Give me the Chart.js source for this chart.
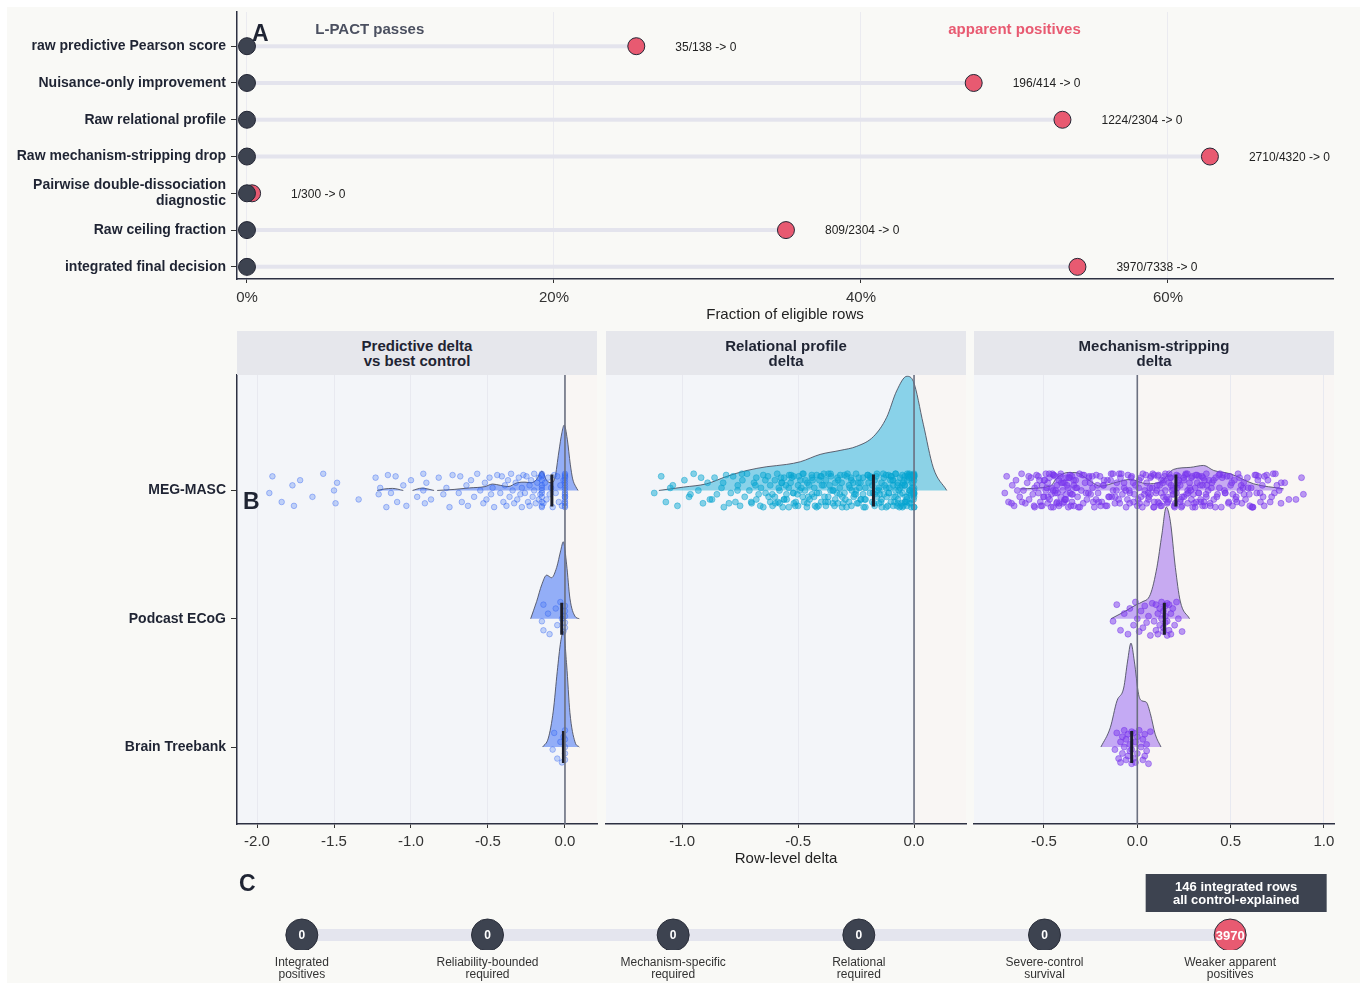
<!DOCTYPE html>
<html>
<head>
<meta charset="utf-8">
<script src="https://cdn.jsdelivr.net/npm/chart.js@4.4.1/dist/chart.umd.min.js"></script>
<style>
  body { margin: 0; background: #fff; width: 1366px; height: 983px; overflow: hidden; font-family: "Liberation Sans", Arial, sans-serif; }
  #panel { position: absolute; left: 7px; top: 7px; width: 1353px; height: 976px; background: #f9f9f6; }
  canvas { position: absolute; }
  .strip { position: absolute; top: 331px; height: 44px; width: 360px; background: #e6e7ec; color: #1f2433;
           font-weight: bold; font-size: 15px; line-height: 15px; display: flex; align-items: center; justify-content: center; text-align: center; }
  .tag { position: absolute; font-weight: bold; font-size: 23px; line-height: 23px; color: #1f2433; }
</style>
</head>
<body>
<div id="panel"></div>
<canvas id="chartA" width="1366" height="323" style="left:0;top:1px"></canvas>
<canvas id="facet1" width="601" height="497" style="left:0;top:371px"></canvas>
<canvas id="facet2" width="370" height="497" style="left:600px;top:371px"></canvas>
<canvas id="facet3" width="370" height="497" style="left:968px;top:371px"></canvas>
<canvas id="chartC" width="1366" height="123" style="left:0;top:860px"></canvas>
<div class="strip" style="left:237px">Predictive delta<br>vs best control</div>
<div class="strip" style="left:606px">Relational profile<br>delta</div>
<div class="strip" style="left:974px">Mechanism-stripping<br>delta</div>
<div class="tag" style="left:252px;top:22px">A</div>
<div class="tag" style="left:243px;top:490px">B</div>
<div class="tag" style="left:239px;top:872px">C</div>
<script>
// ---- panel A data ----
const lollipopCats = [
  "raw predictive Pearson score",
  "Nuisance-only improvement",
  "Raw relational profile",
  "Raw mechanism-stripping drop",
  ["Pairwise double-dissociation", "diagnostic"],
  "Raw ceiling fraction",
  "integrated final decision",
];
const apparent = [35, 196, 1224, 2710, 1, 809, 3970];
const eligible = [138, 414, 2304, 4320, 300, 2304, 7338];
const lpactPasses = [0, 0, 0, 0, 0, 0, 0];
const pctTicks = [0, 0.2, 0.4, 0.6];

// ---- panel B data ----
const rowNames = ["MEG-MASC", "Podcast ECoG", "Brain Treebank"];
const predTicks = [-2, -1.5, -1, -0.5, 0];
const relTicks = [-1, -0.5, 0];
const mechTicks = [-0.5, 0, 0.5, 1];

const predMegPoints = [-1.92,-1.9,-1.84,-1.77,-1.76,-1.72,-1.64,-1.57,-1.5,-1.49,-1.48,-1.34,-1.23,-1.21,-1.2,-1.16,-1.15,-1.13,-1.1,-1.09,-1.05,-1.03,-1.0,-0.96,-0.92,-0.92,-0.91,-0.9,-0.87,-0.82,-0.79,-0.77,-0.75,-0.73,-0.69,-0.68,-0.67,-0.64,-0.63,-0.61,-0.59,-0.57,-0.55,-0.53,-0.52,-0.51,-0.49,-0.48,-0.47,-0.46,-0.44,-0.42,-0.41,-0.4,-0.39,-0.38,-0.37,-0.36,-0.35,-0.34,-0.33,-0.32,-0.31,-0.3,-0.29,-0.28,-0.28,-0.27,-0.26,-0.25,-0.24,-0.23,-0.23,-0.22,-0.21,-0.2,-0.2,-0.19,-0.18,-0.17,-0.17,-0.16,-0.15,-0.15,-0.15,-0.15,-0.15,-0.15,-0.15,-0.15,-0.15,-0.15,-0.15,-0.15,-0.14,-0.13,-0.12,-0.11,-0.1,-0.09,-0.08,-0.07,-0.06,-0.05,-0.04,-0.03,-0.02,-0.01,0,0,0,0,0,0,0,0,0,0,0,0,0,0,0,0,0,0];
const predPodPoints = [-0.15,-0.14,-0.14,-0.11,-0.1,-0.06,-0.05,-0.03,-0.02,-0.01,0,0,0,0,0];
const predTreePoints = [-0.08,-0.07,-0.05,-0.03,-0.02,-0.01,0,0,0,0,0];
const relMegPoints = [-1.12,-1.09,-1.07,-1.04,-1.02,-0.99,-0.97,-0.95,-0.93,-0.91,-0.89,-0.88,-0.86,-0.85,-0.83,-0.82,-0.81,-0.79,-0.78,-0.77,-0.76,-0.75,-0.74,-0.73,-0.72,-0.71,-0.70,-0.69,-0.68,-0.68,-0.67,-0.66,-0.65,-0.65,-0.64,-0.63,-0.62,-0.62,-0.61,-0.60,-0.60,-0.59,-0.58,-0.58,-0.57,-0.56,-0.56,-0.55,-0.54,-0.54,-0.53,-0.52,-0.52,-0.51,-0.50,-0.50,-0.49,-0.48,-0.48,-0.47,-0.46,-0.46,-0.45,-0.44,-0.44,-0.43,-0.42,-0.42,-0.41,-0.40,-0.40,-0.39,-0.38,-0.38,-0.37,-0.36,-0.36,-0.35,-0.34,-0.34,-0.33,-0.32,-0.32,-0.31,-0.30,-0.30,-0.29,-0.28,-0.28,-0.27,-0.27,-0.26,-0.25,-0.25,-0.24,-0.24,-0.23,-0.22,-0.22,-0.21,-0.21,-0.20,-0.19,-0.19,-0.18,-0.18,-0.17,-0.17,-0.16,-0.16,-0.15,-0.15,-0.14,-0.14,-0.13,-0.13,-0.12,-0.12,-0.11,-0.11,-0.10,-0.10,-0.09,-0.09,-0.09,-0.08,-0.08,-0.08,-0.07,-0.07,-0.07,-0.06,-0.06,-0.06,-0.05,-0.05,-0.05,-0.04,-0.04,-0.04,-0.03,-0.03,-0.03,-0.02,-0.02,-0.02,-0.01,-0.01,-0.01,0,0,0,0,0,0,-0.587,-0.553,-0.512,-0.468,-0.431,-0.389,-0.347,-0.306,-0.262,-0.229,-0.183,-0.147,-0.106,-0.063,-0.024,-0.006,-0.017,-0.038,-0.052,-0.074,-0.093,-0.118,-0.133,-0.158,-0.172,-0.196,-0.213,-0.238,-0.251,-0.277,-0.291,-0.318,-0.333,-0.358,-0.371,-0.397,-0.412,-0.437,-0.456,-0.477,-0.493,-0.518,-0.532,-0.561,-0.574,-0.003,-0.008,-0.012,-0.015,-0.022,-0.027,-0.033,-0.041,-0.046,0,0,0,0,
  -0.598,-0.571,-0.549,-0.527,-0.503,-0.486,-0.462,-0.441,-0.419,-0.403,-0.382,-0.364,-0.343,-0.327,-0.309,-0.287,-0.268,-0.246,-0.231,-0.209,-0.188,-0.171,-0.152,-0.139,-0.121,-0.108,-0.097,-0.084,-0.071,-0.058,-0.044,-0.036,-0.029,-0.018,-0.011,-0.004,-0.002,-0.001,-0.611,-0.583,-0.566,-0.538,-0.521,-0.497,-0.474,-0.452,-0.427,-0.408,-0.386,-0.369,-0.351,-0.329,-0.312,-0.296,-0.272,-0.257,-0.236,-0.217,-0.199,-0.177,-0.163,-0.142,-0.127,-0.113,-0.102,-0.088,-0.079,-0.066,-0.054,-0.047,-0.031,-0.021,-0.013,-0.007,0,0,0,0,-0.702,-0.684,-0.663,-0.641,-0.627,-0.742,-0.761,-0.798,-0.823,-0.871,-0.918,-0.964,-1.051];
const mechMegPoints = [-0.71,-0.7,-0.69,-0.67,-0.66,-0.65,-0.63,-0.62,-0.61,-0.6,-0.59,-0.58,-0.57,-0.56,-0.55,-0.55,-0.54,-0.53,-0.53,-0.52,-0.51,-0.51,-0.5,-0.5,-0.49,-0.49,-0.48,-0.48,-0.47,-0.47,-0.46,-0.46,-0.45,-0.45,-0.44,-0.44,-0.43,-0.43,-0.42,-0.42,-0.41,-0.41,-0.4,-0.4,-0.39,-0.39,-0.38,-0.38,-0.37,-0.37,-0.36,-0.36,-0.35,-0.35,-0.34,-0.34,-0.33,-0.32,-0.31,-0.3,-0.29,-0.28,-0.27,-0.26,-0.25,-0.24,-0.23,-0.22,-0.21,-0.2,-0.19,-0.18,-0.17,-0.16,-0.15,-0.14,-0.13,-0.12,-0.11,-0.1,-0.09,-0.08,-0.07,-0.06,-0.05,-0.04,-0.03,-0.02,-0.01,0,0.01,0.02,0.03,0.04,0.05,0.05,0.06,0.07,0.07,0.08,0.09,0.09,0.1,0.11,0.11,0.12,0.13,0.13,0.14,0.15,0.15,0.16,0.17,0.17,0.18,0.19,0.19,0.2,0.21,0.21,0.22,0.23,0.23,0.24,0.25,0.25,0.26,0.27,0.27,0.28,0.29,0.29,0.3,0.31,0.31,0.32,0.33,0.33,0.34,0.35,0.35,0.36,0.37,0.37,0.38,0.39,0.4,0.41,0.42,0.43,0.44,0.45,0.46,0.47,0.48,0.49,0.5,0.51,0.52,0.53,0.54,0.55,0.56,0.57,0.58,0.59,0.6,0.61,0.62,0.63,0.64,0.65,0.66,0.67,0.68,0.7,0.72,0.74,0.76,0.77,0.79,0.85,0.88,0.89,-0.485,-0.462,-0.447,-0.428,-0.413,-0.392,-0.377,-0.356,-0.341,0.062,0.083,0.104,0.118,0.137,0.152,0.176,0.193,0.214,0.236,0.258,0.273,0.294,0.316,0.338,0.362,0.384,-0.137,-0.086,-0.043,0.012,-0.253,-0.221,0.455,0.512,0.566,0.618,0.693,0.735,-0.582,-0.617,
  -0.538,-0.517,-0.496,-0.478,-0.455,-0.437,-0.419,-0.398,-0.382,-0.363,-0.347,-0.331,-0.316,-0.294,-0.275,-0.258,-0.236,-0.214,-0.196,-0.178,-0.154,-0.131,-0.112,-0.094,-0.071,-0.053,-0.034,-0.016,0.008,0.027,0.046,0.058,0.074,0.091,0.107,0.124,0.141,0.158,0.171,0.187,0.203,0.219,0.232,0.248,0.264,0.281,0.297,0.313,0.328,0.346,0.357,0.373,0.391,0.408,0.426,0.443,0.467,0.488,0.506,0.527,0.548,0.572,0.594,0.613,0.637,0.658,0.681,0.712,0.748,-0.553,-0.524,-0.503,-0.472,-0.451,-0.433,-0.407,-0.386,-0.368,-0.352,-0.324,-0.308,-0.286,-0.262,-0.241,-0.207,-0.183,-0.162,-0.143,-0.118,-0.097,-0.062,-0.041,-0.022,0.004,0.019,0.038,0.067,0.087,0.113,0.129,0.146,0.163,0.181,0.197,0.223,0.241,0.268,0.287,0.305,0.321,0.339,0.352,0.368,0.397,0.418,0.437,0.472,0.496,0.534,0.557,0.603,0.646,0.674,0.728,-0.643,-0.674,0.771,0.812];
const mechPodPoints = [-0.13,-0.11,-0.09,-0.07,-0.05,-0.04,-0.02,-0.01,0,0.01,0.02,0.03,0.04,0.05,0.06,0.07,0.08,0.09,0.1,0.1,0.11,0.11,0.12,0.12,0.13,0.13,0.14,0.14,0.14,0.15,0.15,0.15,0.16,0.16,0.16,0.17,0.17,0.18,0.18,0.19,0.2,0.21,0.22,0.24];
const mechTreePoints = [-0.12,-0.11,-0.1,-0.09,-0.09,-0.08,-0.08,-0.07,-0.07,-0.06,-0.06,-0.05,-0.05,-0.04,-0.04,-0.03,-0.03,-0.03,-0.02,-0.02,-0.01,-0.01,0,0,0.01,0.02,0.03,0.03,0.04,0.04,0.05,0.05,0.06,0.07];

// density outlines as [delta, height in row units]; null = gap
const predMegDensity = [[-1.22,0],[-1.17,0.012],[-1.12,0.016],[-1.05,0],null,[-0.99,0],[-0.93,0.018],[-0.85,0],null,[-0.83,0],[-0.72,0.008],[-0.62,0.02],[-0.52,0.03],[-0.47,0.05],[-0.42,0.04],[-0.37,0.03],[-0.31,0.06],[-0.26,0.065],[-0.22,0.06],[-0.185,0.085],[-0.15,0.15],[-0.12,0.08],[-0.09,0.06],[-0.065,0.1],[-0.04,0.3],[-0.02,0.45],[-0.005,0.51],[0.015,0.4],[0.035,0.2],[0.05,0.09],[0.07,0.03],[0.085,0]];
const predPodDensity = [[-0.223,0],[-0.184,0.135],[-0.151,0.265],[-0.119,0.34],[-0.087,0.32],[-0.054,0.4],[-0.028,0.53],[-0.011,0.6],[0.011,0.42],[0.032,0.16],[0.065,0.02],[0.093,0]];
const predTreeDensity = [[-0.145,0],[-0.108,0.07],[-0.076,0.28],[-0.05,0.59],[-0.028,0.82],[-0.01,0.9],[0.011,0.64],[0.032,0.27],[0.065,0.04],[0.093,0]];
const relMegDensity = [[-1.1,0],[-0.994,0.026],[-0.894,0.052],[-0.807,0.11],[-0.72,0.156],[-0.635,0.185],[-0.549,0.203],[-0.49,0.224],[-0.405,0.281],[-0.319,0.312],[-0.247,0.344],[-0.175,0.42],[-0.118,0.57],[-0.075,0.776],[-0.031,0.89],[-0.003,0.85],[0.04,0.516],[0.083,0.177],[0.141,0]];
const mechMegDensity = [[-0.627,0.013],[-0.466,0.034],[-0.43,0.1],[-0.37,0.14],[-0.323,0.138],[-0.27,0.091],[-0.198,0.034],[-0.109,0.065],[-0.037,0.086],[0.052,0.052],[0.123,0.065],[0.194,0.164],[0.284,0.18],[0.355,0.195],[0.409,0.156],[0.498,0.13],[0.623,0.052],[0.784,0.013]];
const mechPodDensity = [[-0.141,0],[-0.073,0.052],[-0.002,0.112],[0.025,0.13],[0.07,0.19],[0.105,0.4],[0.132,0.66],[0.155,0.87],[0.177,0.76],[0.204,0.4],[0.23,0.138],[0.28,0]];
const mechTreeDensity = [[-0.195,0],[-0.145,0.15],[-0.109,0.36],[-0.073,0.46],[-0.052,0.67],[-0.034,0.81],[-0.016,0.67],[0.007,0.41],[0.025,0.36],[0.048,0.35],[0.07,0.26],[0.096,0.1],[0.127,0]];

const predMedians = [-0.085, -0.021, -0.01];
const relMedians = [-0.175];
const mechMedians = [0.207, 0.145, -0.03];

// ---- panel C data ----
const stageLabels = [
  ["Integrated", "positives"],
  ["Reliability-bounded", "required"],
  ["Mechanism-specific", "required"],
  ["Relational", "required"],
  ["Severe-control", "survival"],
  ["Weaker apparent", "positives"],
];
const stageCounts = [0, 0, 0, 0, 0, 3970];
const integratedRows = 146;

// ---- shared look ----
const FONT = '"Liberation Sans", Arial, Helvetica, sans-serif';
const RED = "#e85a71";
const DARK = "#3d4350";
const INK = "#1f2433";
Chart.defaults.font.family = FONT;
Chart.defaults.animation = false;
Chart.defaults.responsive = false;
Chart.defaults.plugins.legend.display = false;
Chart.defaults.plugins.tooltip.enabled = false;
Chart.defaults.layout.autoPadding = false;

const jitter = [0.02,-0.11,0.09,-0.04,0.12,-0.08,0.05,-0.13,0,0.1,-0.06,0.07,-0.1,0.03,-0.02,0.13,-0.12];

// fixed axis boxes so the panels line up
function fixY(width) {
  return (s) => { s.width = width; s.paddingTop = 0; s.paddingBottom = 0; };
}
function fixX(height) {
  return (s) => { s.height = height; s.paddingLeft = 0; s.paddingRight = 0; };
}

// ================= A =================
const fracApparent = apparent.map((a, i) => a / eligible[i]);
const fracPass = lpactPasses.map((p, i) => p / eligible[i]);

const lollipopText = {
  id: "lollipopText",
  afterDatasetsDraw(chart) {
    const { ctx, scales: { x, y } } = chart;
    ctx.save();
    ctx.font = "12px " + FONT;
    ctx.fillStyle = "#222";
    ctx.textAlign = "left";
    ctx.textBaseline = "middle";
    apparent.forEach((a, i) => {
      ctx.fillText(a + "/" + eligible[i] + " -> " + lpactPasses[i], x.getPixelForValue(fracApparent[i]) + 39, y.getPixelForValue(i) + 1);
    });
    ctx.font = "bold 15px " + FONT;
    ctx.textAlign = "center";
    ctx.fillStyle = "#4b5060";
    ctx.fillText("L-PACT passes", x.getPixelForValue(0.08), y.getPixelForValue(-0.44));
    ctx.fillStyle = RED;
    ctx.fillText("apparent positives", x.getPixelForValue(0.5), y.getPixelForValue(-0.44));
    ctx.restore();
  },
};

new Chart(document.getElementById("chartA"), {
  type: "scatter",
  data: {
    datasets: [
      ...lollipopCats.map((c, i) => ({
        type: "line",
        data: [{ x: fracPass[i], y: i }, { x: fracApparent[i], y: i }],
        borderColor: "#e4e4ed",
        borderWidth: 4,
        pointRadius: 0,
        order: 3,
      })),
      {
        data: fracApparent.map((v, i) => ({ x: v, y: i })),
        backgroundColor: RED,
        borderColor: "#232634",
        borderWidth: 1,
        pointRadius: 8.5,
        order: 2,
      },
      {
        data: fracPass.map((v, i) => ({ x: v, y: i })),
        backgroundColor: DARK,
        borderColor: "#232634",
        borderWidth: 1,
        pointRadius: 8.5,
        order: 1,
      },
    ],
  },
  options: {
    layout: { padding: { left: 0, top: 11, right: 33, bottom: 0 } },
    scales: {
      x: {
        type: "linear",
        min: -0.0065,
        max: 0.7075,
        afterBuildTicks: (s) => { s.ticks = pctTicks.map((v) => ({ value: v })); },
        afterFit: fixX(45),
        ticks: { callback: (v) => Math.round(v * 100) + "%", font: { size: 15 }, color: "#333", padding: 6 },
        grid: { color: "#ebebf0", tickColor: "#333", tickLength: 4 },
        border: { color: "#2d3142", width: 1.5 },
        title: { display: true, text: "Fraction of eligible rows", font: { size: 15 }, color: "#222", padding: 0 },
      },
      y: {
        type: "linear",
        min: -0.93,
        max: 6.33,
        reverse: true,
        afterBuildTicks: (s) => { s.ticks = lollipopCats.map((c, i) => ({ value: i })); },
        afterFit: fixY(237),
        ticks: { callback: (v, i) => lollipopCats[i], font: { size: 14, weight: "bold", lineHeight: 1.1 }, color: INK, padding: 5, autoSkip: false },
        grid: { drawOnChartArea: false, color: "#333", tickLength: 6 },
        border: { color: "#2d3142", width: 1.5 },
      },
    },
  },
  plugins: [lollipopText],
});

// ================= B =================
const splitBg = {
  id: "splitBg",
  beforeDraw(chart) {
    const { ctx, chartArea: a, scales: { x } } = chart;
    const z = x.getPixelForValue(0);
    ctx.save();
    ctx.fillStyle = "#f3f5f9";
    ctx.fillRect(a.left, a.top, z - a.left, a.bottom - a.top);
    ctx.fillStyle = "#f9f6f4";
    ctx.fillRect(z, a.top, a.right - z, a.bottom - a.top);
    ctx.restore();
  },
};

const Y_MIN = -0.9, Y_MAX = 2.6;

function facetChart(id, o) {
  const datasets = [];
  o.rows.forEach((r, row) => {
    datasets.push({
      type: "line",
      data: r.density.map((p) => (p ? { x: p[0], y: row - p[1] } : { x: NaN, y: NaN })),
      fill: { value: row },
      backgroundColor: o.fill,
      borderColor: "rgba(70,74,90,0.85)",
      borderWidth: 1,
      pointRadius: 0,
      cubicInterpolationMode: "monotone",
      spanGaps: false,
      order: 4,
    });
    datasets.push({
      data: r.points.map((v, k) => ({ x: v, y: row + jitter[k % jitter.length] })),
      backgroundColor: o.point,
      borderColor: o.edge,
      borderWidth: 0.8,
      pointRadius: o.radius,
      order: 3,
    });
    datasets.push({
      type: "line",
      data: [{ x: r.median, y: row - 0.125 }, { x: r.median, y: row + 0.125 }],
      borderColor: "#1b1d2a",
      borderWidth: 3,
      pointRadius: 0,
      order: 2,
    });
  });
  datasets.push({
    type: "line",
    data: [{ x: 0, y: Y_MIN }, { x: 0, y: Y_MAX }],
    borderColor: "#6b7080",
    borderWidth: 1.6,
    pointRadius: 0,
    order: 1,
  });

  const yScale = {
    type: "linear",
    display: o.showY,
    min: Y_MIN,
    max: Y_MAX,
    reverse: true,
  };
  if (o.showY) {
    Object.assign(yScale, {
      afterBuildTicks: (s) => { s.ticks = rowNames.map((n, i) => ({ value: i })); },
      afterFit: fixY(237),
      ticks: { callback: (v, i) => rowNames[i], font: { size: 14, weight: "bold" }, color: INK, padding: 5, autoSkip: false },
      grid: { drawOnChartArea: false, color: "#333", tickLength: 6 },
      border: { color: "#2d3142", width: 1.5 },
    });
  }

  new Chart(document.getElementById(id), {
    type: "scatter",
    data: { datasets },
    options: {
      layout: { padding: { left: o.showY ? 0 : 6, right: 4, top: 4, bottom: 0 } },
      scales: {
        x: {
          type: "linear",
          min: o.min,
          max: o.max,
          afterBuildTicks: (s) => { s.ticks = o.ticks.map((v) => ({ value: v })); },
          afterFit: fixX(44),
          ticks: { callback: (v) => v.toFixed(1), font: { size: 15 }, color: "#333", padding: 5 },
          grid: { color: "#e8e9f0", tickColor: "#333", tickLength: 4 },
          border: { color: "#2d3142", width: 1.5 },
          title: { display: !!o.title, text: o.title || "", font: { size: 15 }, color: "#222", padding: 0 },
        },
        y: yScale,
      },
    },
    plugins: [splitBg],
  });
}

facetChart("facet1", {
  showY: true, min: -2.13, max: 0.208, ticks: predTicks, radius: 2.8,
  fill: "rgba(59,110,245,0.52)", point: "rgba(59,110,245,0.28)", edge: "rgba(40,90,240,0.45)",
  rows: [
    { density: predMegDensity, points: predMegPoints, median: predMedians[0] },
    { density: predPodDensity, points: predPodPoints, median: predMedians[1] },
    { density: predTreeDensity, points: predTreePoints, median: predMedians[2] },
  ],
});
facetChart("facet2", {
  showY: false, min: -1.328, max: 0.224, ticks: relTicks, title: "Row-level delta", radius: 3,
  fill: "rgba(20,172,215,0.48)", point: "rgba(6,168,212,0.48)", edge: "rgba(6,160,205,0.55)",
  rows: [
    { density: relMegDensity, points: relMegPoints, median: relMedians[0] },
  ],
});
facetChart("facet3", {
  showY: false, min: -0.875, max: 1.054, ticks: mechTicks, radius: 3,
  fill: "rgba(124,58,237,0.4)", point: "rgba(124,58,237,0.5)", edge: "rgba(118,50,235,0.6)",
  rows: [
    { density: mechMegDensity, points: mechMegPoints, median: mechMedians[0] },
    { density: mechPodDensity, points: mechPodPoints, median: mechMedians[1] },
    { density: mechTreeDensity, points: mechTreePoints, median: mechMedians[2] },
  ],
});

// ================= C =================
const stageText = {
  id: "stageText",
  afterDatasetsDraw(chart) {
    const { ctx, scales: { x, y } } = chart;
    ctx.save();
    ctx.fillStyle = "#fff";
    ctx.textAlign = "center";
    ctx.textBaseline = "middle";
    stageCounts.forEach((n, i) => {
      ctx.font = "bold " + (n > 0 ? 13 : 12) + "px " + FONT;
      ctx.fillText(String(n), x.getPixelForValue(i), y.getPixelForValue(0) + 1);
    });
    const last = stageCounts.length - 1;
    const cx = x.getPixelForValue(last) + 6;
    const top = y.getPixelForValue(0) - 61;
    ctx.fillStyle = DARK;
    ctx.fillRect(cx - 90.5, top, 181, 38);
    ctx.fillStyle = "#fff";
    ctx.font = "bold 13px " + FONT;
    ctx.fillText(integratedRows + " integrated rows", cx, top + 13);
    ctx.fillText("all control-explained", cx, top + 26);
    ctx.restore();
  },
};

new Chart(document.getElementById("chartC"), {
  type: "scatter",
  data: {
    datasets: [
      {
        data: stageCounts.map((n, i) => ({ x: i, y: 0 })),
        backgroundColor: stageCounts.map((n) => (n > 0 ? RED : DARK)),
        borderColor: "#2a2e3a",
        borderWidth: 1,
        pointRadius: 16,
        order: 1,
      },
      {
        type: "line",
        data: [{ x: 0, y: 0 }, { x: stageCounts.length - 1, y: 0 }],
        borderColor: "#e4e5ee",
        borderWidth: 12,
        pointRadius: 0,
        order: 2,
      },
    ],
  },
  options: {
    layout: { padding: { left: 209, right: 43, top: 0, bottom: 0 } },
    scales: {
      x: {
        type: "linear",
        min: -0.5,
        max: 5.5,
        afterBuildTicks: (s) => { s.ticks = stageLabels.map((l, i) => ({ value: i })); },
        afterFit: fixX(33),
        ticks: { callback: (v, i) => stageLabels[i], font: { size: 12, lineHeight: 1.0 }, color: "#333", padding: 7, maxRotation: 0, autoSkip: false },
        grid: { display: false, drawTicks: false },
        border: { display: false },
      },
      y: { display: false, min: -0.2, max: 1 },
    },
  },
  plugins: [stageText],
});
</script>
</body>
</html>
